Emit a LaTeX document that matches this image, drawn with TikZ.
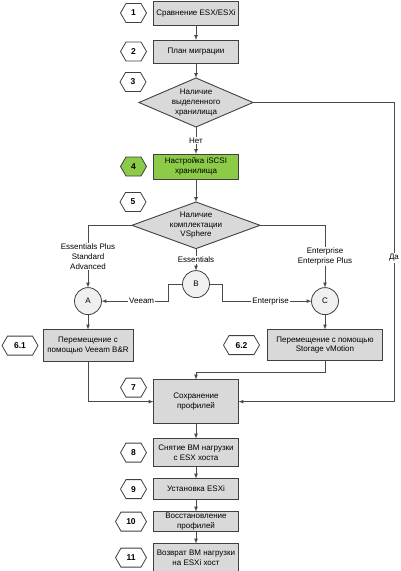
\documentclass[tikz,border=0pt]{standalone}
\usepackage{fontspec}
\setmainfont{Liberation Sans}
\usetikzlibrary{shapes,arrows,positioning,calc}
\definecolor{boxline}{HTML}{404040}
\definecolor{linegray}{HTML}{4A4A4A}
\definecolor{boxgray}{HTML}{D9D9D9}
\definecolor{circgray}{HTML}{F0F0F0}
\definecolor{stepgreen}{HTML}{8CCB48}

\begin{document}
\begin{tikzpicture}[node distance=15pt, font=\fontsize{8}{9.7}\selectfont]

\useasboundingbox (0,0) rectangle (400pt,-571pt);

% Define styles
\tikzstyle{stage} = [rectangle, minimum width=85pt, minimum height=24pt, inner sep=1pt, outer sep=0pt, align=center, draw=boxline, fill=boxgray, line width=0.9pt]
\tikzstyle{decision} = [diamond, aspect=2.3, inner sep=0pt, outer sep=0pt, align=center, draw=boxline, fill=boxgray, line width=0.9pt]
\tikzstyle{junction} = [circle, minimum size=27pt, inner sep=0pt, outer sep=0pt, draw=boxline, fill=circgray, line width=0.8pt]
\tikzstyle{tag} = [signal, signal to=west and east, signal pointer angle=120, minimum width=26pt, minimum height=19pt, inner sep=1pt, outer sep=0pt, draw=boxline, fill=white, line width=0.8pt, font=\fontsize{8.5}{10}\selectfont\bfseries]
\tikzstyle{arrow} = [->, >=latex, draw=linegray, line width=0.7pt]
\tikzstyle{lbl} = [fill=white, inner sep=1pt, align=center]

% Main column
\node (cmp) [stage] at (196pt,-13pt) {Сравнение ESX/ESXi};
\node (plan) [stage, below=15pt of cmp, minimum height=23pt] {План миграции};
\node (store) [decision, below=15pt of plan, minimum width=114pt, minimum height=49pt] {Наличие\\выделенного\\хранилища};
\node (iscsi) [stage, below=27pt of store, minimum height=25pt, fill=stepgreen] {Настройка iSCSI\\хранилища};
\node (edition) [decision, below=23pt of iscsi, aspect=2.6, minimum width=128pt, minimum height=46pt] {Наличие\\комплектации\\VSphere};

% Junctions
\node (B) [junction, below=22pt of edition] {B};
\node (A) [junction, xshift=-108pt, yshift=-17pt] at (B) {A};
\node (C) [junction, xshift=129pt, yshift=-17pt] at (B) {C};

% Migration variants
\node (b61) [stage, below=15pt of A, minimum width=90pt, minimum height=32pt] {Перемещение с\\помощью Veeam B\&R};
\node (b62) [stage, below=15pt of C, minimum width=115pt, minimum height=31pt] {Перемещение с помощью\\Storage vMotion};

% Lower column
\node (b7) [stage, below=18pt of b61, xshift=108pt, minimum height=44pt] {Сохранение\\профилей};
\node (b8) [stage, below=15pt of b7, minimum height=28pt] {Снятие ВМ нагрузки\\с ESX хоста};
\node (b9) [stage, below=12pt of b8, minimum height=21pt] {Установка ESXi};
\node (b10) [stage, below=12pt of b9, minimum height=20pt] {Восстановление\\профилей};
\node (b11) [stage, below=12pt of b10, minimum height=28pt] {Возврат ВМ нагрузки\\на ESXi хост};

% Step numbers
\node (t1) [tag, left=7pt of cmp] {1};
\node (t2) [tag, left=7pt of plan] {2};
\node (t3) [tag, left=50pt of store.north, yshift=-4pt] {3};
\node (t4) [tag, left=7pt of iscsi, fill=stepgreen] {4};
\node (t5) [tag, left=50pt of edition.north] {5};
\node (t61) [tag, left=5pt of b61, minimum width=36pt] {6.1};
\node (t62) [tag, left=8pt of b62, minimum width=36pt] {6.2};
\node (t7) [tag, left=7pt of b7.north west, yshift=-8pt] {7};
\node (t8) [tag, left=7pt of b8] {8};
\node (t9) [tag, left=7pt of b9] {9};
\node (t10) [tag, left=7pt of b10, minimum width=31pt] {10};
\node (t11) [tag, left=7pt of b11, minimum width=31pt] {11};

% Connections
\draw [arrow] (cmp) -- (plan);
\draw [arrow] (plan) -- (store);
\draw [arrow] (store) -- node[lbl] {Нет} (iscsi);
\draw [arrow] (iscsi) -- (edition);
\draw [arrow] (edition) -- node[lbl] {Essentials} (B);
\draw [arrow] (edition.west) -| node[lbl, pos=0.75] {Essentials Plus\\Standard\\Advanced} (A);
\draw [arrow] (edition.east) -| node[lbl, pos=0.75] {Enterprise\\Enterprise Plus} (C);
\draw [arrow] (B.west) -- ++(-14pt,0) |- node[lbl, pos=0.7] {Veeam} (A);
\draw [arrow] (B.east) -- ++(13pt,0) |- node[lbl, pos=0.77] {Enterprise} (C);
\draw [arrow] (A) -- (b61);
\draw [arrow] (C) -- (b62);
\draw [arrow] (b61) |- (b7);
\draw [arrow] (b62.south) -- ++(0,-12pt) -| (b7);
\draw [arrow] (store.east) -- ++(141pt,0) |- node[lbl, pos=0.26] {Да} (b7);
\draw [arrow] (b7) -- (b8);
\draw [arrow] (b8) -- (b9);
\draw [arrow] (b9) -- (b10);
\draw [arrow] (b10) -- (b11);

\end{tikzpicture}
\end{document}
